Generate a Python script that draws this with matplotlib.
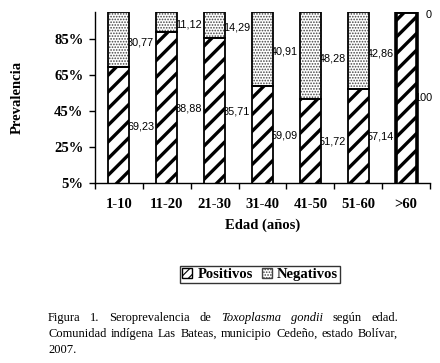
import matplotlib
matplotlib.use("Agg")
import matplotlib.pyplot as plt
from matplotlib.patches import Patch
import numpy as np

categories = ["1-10", "11-20", "21-30", "31-40", "41-50", "51-60", ">60"]
positivos = [69.23, 88.88, 85.71, 59.09, 51.72, 57.14, 100]
negativos = [30.77, 11.12, 14.29, 40.91, 48.28, 42.86, 0]
pos_labels = ["69,23", "88,88", "85,71", "59,09", "51,72", "57,14", "100"]
neg_labels = ["30,77", "11,12", "14,29", "40,91", "48,28", "42,86", "0"]
yticks = [5, 25, 45, 65, 85]

serif = "Liberation Serif"
sans = "Liberation Sans"
FS = 10.5

fig = plt.figure(figsize=(4.4, 3.63), dpi=100)
ax = fig.add_axes([95/440, 1-183/363, 335/440, 171/363])

x = np.arange(len(categories))
w = 0.44
ymin = 5
pos = np.array(positivos)
neg = np.array(negativos)

# positives: white face, black diagonal hatch
plt.rcParams["hatch.linewidth"] = 2.4
ax.bar(x, pos, w, color="white", edgecolor="black", hatch="//", linewidth=0, zorder=2)
# negatives: dotted grey texture
plt.rcParams["hatch.linewidth"] = 0.8
ax.bar(x, neg, w, bottom=pos, color="white", edgecolor="#444444", hatch="......",
       linewidth=0, zorder=2)
# outlines
lws = [1.3]*6 + [2.6]
ax.bar(x, pos, w, fill=False, edgecolor="black", linewidth=lws, zorder=3)
ax.bar(x, neg, w, bottom=pos, fill=False, edgecolor="black", linewidth=lws, zorder=3)

# data labels (partly tucked behind the bar edge, as in the original)
for i in range(len(categories)):
    yp = (max(pos[i], ymin) + ymin) / 2 - 0.5
    ax.text(x[i] + w/2 - 0.05, yp, pos_labels[i], ha="left", va="center",
            fontsize=7.8, family=sans, zorder=1)
    yn = pos[i] + neg[i] / 2 - 1.5
    off = 0.24 if neg[i] == 0 else 0
    ax.text(x[i] + w/2 - 0.05 + off, yn, neg_labels[i], ha="left", va="center",
            fontsize=7.8, family=sans, zorder=1)

ax.set_xlim(-0.5, len(categories) - 0.5)
ax.set_ylim(ymin, 100)
ax.set_yticks(yticks)
ax.set_yticklabels([f"{v}%" for v in yticks], family=serif, fontweight="bold", fontsize=FS)
ax.set_xticks(x)
ax.set_xticklabels(categories, family=serif, fontweight="bold", fontsize=FS)
ax.set_xticks(np.arange(-0.5, len(categories)), minor=True)
ax.tick_params(axis="x", which="major", length=0, pad=11)
ax.tick_params(axis="x", which="minor", length=4, width=1, direction="out")
ax.tick_params(axis="y", length=4.3, width=1, direction="out", pad=4)
for s in ["top", "right"]:
    ax.spines[s].set_visible(False)
for s in ["left", "bottom"]:
    ax.spines[s].set_linewidth(1)

ax.set_xlabel("Edad (años)", family=serif, fontweight="bold", fontsize=FS, labelpad=5)
fig.text(17/440, 1-97/363, "Prevalencia", rotation=90, ha="center", va="center",
         family=serif, fontweight="bold", fontsize=FS)

plt.rcParams["hatch.linewidth"] = 2.5
h1 = Patch(facecolor="white", edgecolor="black", hatch="////", linewidth=1)
plt.rcParams["hatch.linewidth"] = 0.8
h2 = Patch(facecolor="white", edgecolor="#444444", hatch="......", linewidth=1)
leg = fig.legend([h1, h2], ["Positivos", "Negativos"], loc="center",
                 bbox_to_anchor=(260/440, 1-274.5/363), ncol=2, frameon=True,
                 prop={"family": serif, "weight": "bold", "size": FS},
                 handlelength=0.7, handleheight=0.7, handletextpad=0.35,
                 columnspacing=0.6, borderpad=0.15, borderaxespad=0,
                 fancybox=False, edgecolor="black")
leg.get_frame().set_linewidth(1)

# caption, justified
fig.canvas.draw()
renderer = fig.canvas.get_renderer()
cap_fs = 9
left_px, right_px = 48, 398
lines = [
    [("Figura", "normal"), ("1.", "normal"), ("Seroprevalencia", "normal"), ("de", "normal"),
     ("Toxoplasma", "italic"), ("gondii", "italic"), ("según", "normal"), ("edad.", "normal")],
    [("Comunidad", "normal"), ("indígena", "normal"), ("Las", "normal"), ("Bateas,", "normal"),
     ("municipio", "normal"), ("Cedeño,", "normal"), ("estado", "normal"), ("Bolívar,", "normal")],
    [("2007.", "normal")],
]
baselines = [321, 337, 353]
for li, words in enumerate(lines):
    widths = []
    for wd, st in words:
        t = fig.text(0, 0, wd, fontsize=cap_fs, family=serif, style=st)
        bb = t.get_window_extent(renderer)
        widths.append(bb.width)
        t.remove()
    if len(words) > 1:
        gap = (right_px - left_px - sum(widths)) / (len(words) - 1)
    else:
        gap = 0
    xp = left_px
    for (wd, st), wdt in zip(words, widths):
        fig.text(xp/440, 1 - baselines[li]/363, wd, fontsize=cap_fs, family=serif,
                 style=st, va="baseline", ha="left")
        xp += wdt + gap

fig.savefig("out.png", dpi=100)
